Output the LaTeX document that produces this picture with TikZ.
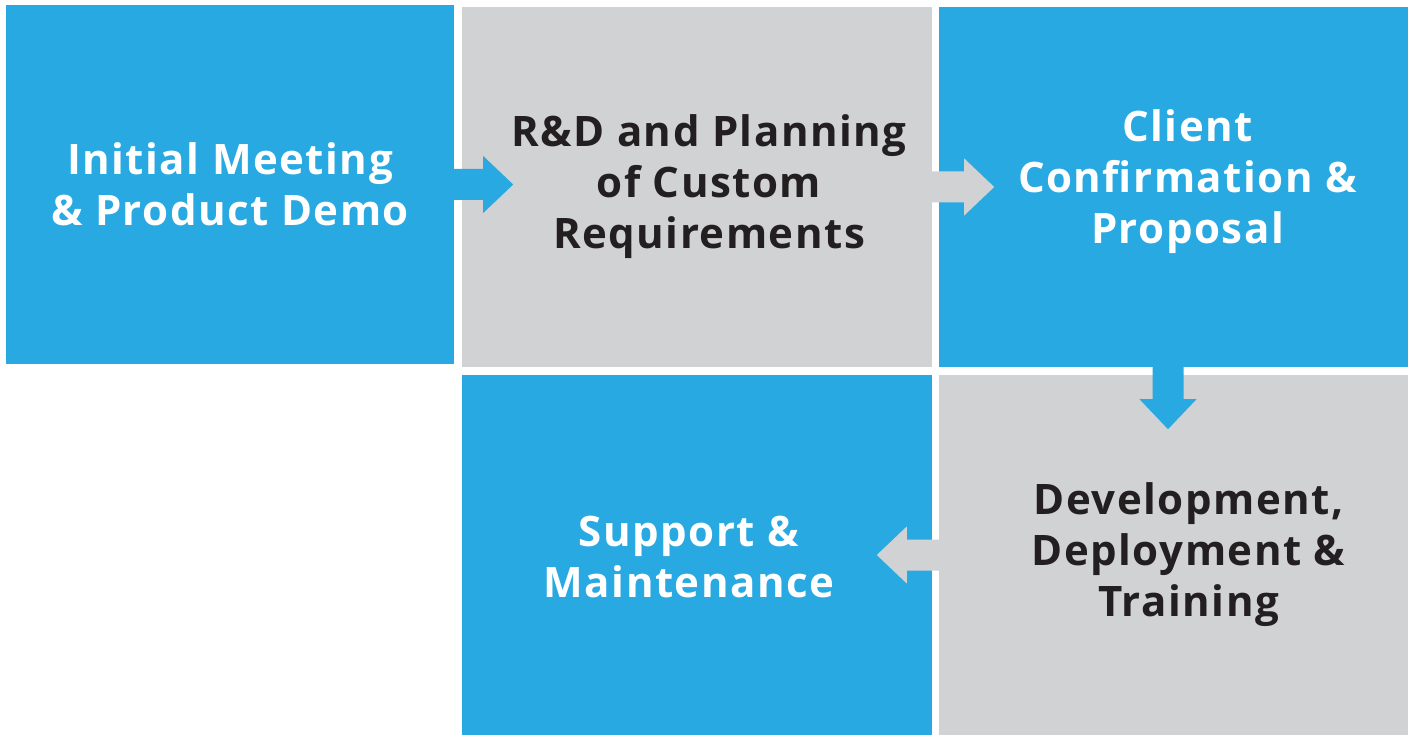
\documentclass[tikz,border=0pt]{standalone}
\usepackage{fontspec}
\setmainfont{Open Sans}[LetterSpace=3.6]
\usepackage{xcolor}
\usetikzlibrary{calc}
\definecolor{stepblue}{HTML}{29A9E1}
\definecolor{stepgray}{HTML}{D1D2D4}
\definecolor{steptext}{HTML}{231F20}
\newcommand{\flowarrow}[4][62]{
\fill[#2,shift={(#3)},rotate=#4] (0,-15.5) -- (#1-30,-15.5) -- (#1-30,-28.5)
  -- (#1,0) -- (#1-30,28.5) -- (#1-30,15.5) -- (0,15.5) -- cycle;
}
\tikzset{
  stepbox/.style={rectangle,inner sep=0pt},
  bluebox/.style={stepbox,fill=stepblue},
  graybox/.style={stepbox,fill=stepgray},
  steplabel/.style={align=center,inner sep=0pt,
    font=\bfseries\fontsize{42}{51}\selectfont},
  bluelabel/.style={steplabel,text=white},
  graylabel/.style={steplabel,text=steptext}
}
\begin{document}
\begin{tikzpicture}[x=1pt,y=-1pt]
\useasboundingbox (0,0) rectangle (1408,735);
\node[bluebox,minimum width=448pt,minimum height=359pt] at (230,184.5) (meeting) {};
\node[graybox,minimum width=470pt,minimum height=360pt] at (697,187) (planning) {};
\node[bluebox,minimum width=469pt,minimum height=360pt] at (1173.5,187) (proposal) {};
\node[graybox,minimum width=469pt,minimum height=360pt] at (1173.5,555) (deploy) {};
\node[bluebox,minimum width=470pt,minimum height=360pt] at (697,555) (support) {};
% texts
\node[bluelabel] at (meeting.center) (meetingtext) {Initial Meeting\\\& Product Demo};
\node[graylabel] at ($(planning.center)+(12,0)$) (planningtext)
  {R\&D and Planning\\of Custom\\Requirements};
\node[bluelabel] at ($(proposal.center)+(14,-5)$) (proposaltext)
  {Client\\Confirmation \&\\Proposal};
\node[graylabel] at ($(deploy.center)+(15,0)$) (deploytext)
  {Development,\\Deployment \&\\Training};
\node[bluelabel] at ($(support.center)+(-8,2)$) (supporttext)
  {Support \&\\Maintenance};
% arrows
\flowarrow[59]{stepblue}{meeting.east}{0}
\flowarrow{stepgray}{planning.east}{0}
\flowarrow{stepblue}{$(proposal.south)+(-5.5,0)$}{-90}
\flowarrow{stepgray}{deploy.west}{180}
\end{tikzpicture}
\end{document}
